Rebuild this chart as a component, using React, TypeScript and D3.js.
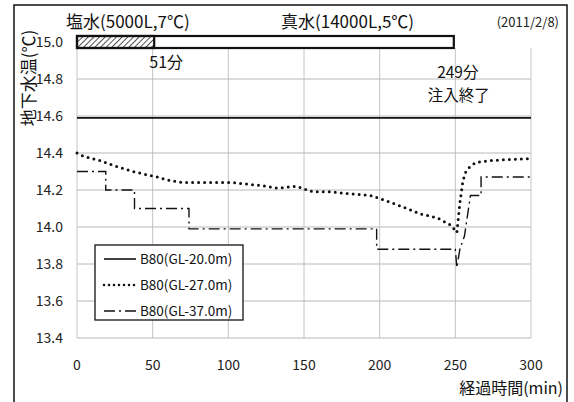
import React from 'react';
import * as d3 from 'd3';

// time (min) / temperature (°C)
const gl20Time = [0, 300];
const gl20Temp = [14.59, 14.59];

const gl27Time = [0, 5, 15, 25, 37, 53, 62, 70, 81, 95, 103, 115, 125, 132, 145, 156, 167, 180, 194, 205, 218, 227, 238, 247, 250, 251, 253, 255, 257, 260, 264, 274, 300];
const gl27Temp = [14.4, 14.38, 14.36, 14.33, 14.3, 14.27, 14.25, 14.24, 14.24, 14.24, 14.24, 14.23, 14.22, 14.21, 14.22, 14.19, 14.19, 14.18, 14.17, 14.14, 14.1, 14.07, 14.05, 14.01, 13.98, 13.97, 14.13, 14.25, 14.3, 14.33, 14.35, 14.36, 14.37];

const gl37Time = [0, 19, 19, 38, 38, 74, 74, 198, 198, 250, 251, 253, 256, 260, 267, 267, 300];
const gl37Temp = [14.3, 14.3, 14.2, 14.2, 14.1, 14.1, 13.99, 13.99, 13.88, 13.88, 13.78, 13.88, 13.95, 14.17, 14.17, 14.27, 14.27];

const xTicks = [0, 50, 100, 150, 200, 250, 300];
const yTicks = [13.4, 13.6, 13.8, 14.0, 14.2, 14.4, 14.6, 14.8, 15.0];

const legendLabels = ['B80(GL-20.0m)', 'B80(GL-27.0m)', 'B80(GL-37.0m)'];
const injectSalt = 51;   // 塩水 end
const injectEnd = 249;   // 注入終了

const FONT = '"Noto Sans CJK JP", "Noto Sans", sans-serif';

export default function App() {
  const W = 574, H = 402;
  const x = d3.scaleLinear().domain([0, 300]).range([77, 531]);
  const y = d3.scaleLinear().domain([13.4, 15.0]).range([338, 42]);

  const line = d3.line<[number, number]>().x(d => x(d[0])).y(d => y(d[1]));
  const pts = (t: number[], v: number[]) => t.map((tt, i) => [tt, v[i]] as [number, number]);

  const styles = [
    { dash: undefined as string | undefined, width: 1.6, cap: 'butt' },
    { dash: '0 6', width: 3, cap: 'round' },
    { dash: '11 4 2 4', width: 1.4, cap: 'butt' },
  ];
  const series = [pts(gl20Time, gl20Temp), pts(gl27Time, gl27Temp), pts(gl37Time, gl37Temp)];

  const barTop = 36, barH = 12;

  return (
    <svg width={W} height={H} style={{ position: 'absolute', left: 0, top: 0, background: '#fff' }} fontFamily={FONT}>
      <defs>
        <pattern id="hatch" width="4" height="4" patternUnits="userSpaceOnUse" patternTransform="rotate(45)">
          <line x1="0" y1="0" x2="0" y2="4" stroke="#222" strokeWidth="1.6" />
        </pattern>
      </defs>
      {/* outer frame */}
      <rect x={14} y={5} width={553} height={410} fill="none" stroke="#111" strokeWidth={1.5} />

      {/* grid */}
      {xTicks.map(t => (
        <line key={'gx' + t} x1={x(t)} x2={x(t)} y1={barTop + barH} y2={y(13.4)} stroke="#c4c4c4" strokeWidth={1} />
      ))}
      {yTicks.filter(t => t < 15).map(t => (
        <line key={'gy' + t} x1={x(0)} x2={x(300)} y1={y(t)} y2={y(t)} stroke="#b8b8b8" strokeWidth={1} />
      ))}

      {/* tick labels */}
      {yTicks.map(t => (
        <text key={'ty' + t} x={63} y={y(t) + 5} textAnchor="end" fontSize={14} fill="#222">{t.toFixed(1)}</text>
      ))}
      {xTicks.map(t => (
        <text key={'tx' + t} x={x(t)} y={370} textAnchor="middle" fontSize={14} fill="#222">{t}</text>
      ))}

      {/* injection bar */}
      <rect x={x(0)} y={barTop} width={x(injectEnd) - x(0)} height={barH} fill="#fff" stroke="#111" strokeWidth={2.2} />
      <rect x={x(0)} y={barTop} width={x(injectSalt) - x(0)} height={barH} fill="url(#hatch)" stroke="#111" strokeWidth={2.2} />

      {/* series */}
      {series.map((s, i) => (
        <path key={'s' + i} d={line(s) || ''} fill="none" stroke="#111" strokeWidth={styles[i].width}
          strokeDasharray={styles[i].dash} strokeLinecap={styles[i].cap as any} />
      ))}

      {/* annotations */}
      <text x={66} y={28} fontSize={17} fill="#111">塩水(5000L,7℃)</text>
      <text x={281} y={28} fontSize={17} fill="#111">真水(14000L,5℃)</text>
      <text x={559} y={27} fontSize={13} textAnchor="end" fill="#222">(2011/2/8)</text>
      <text x={x(injectSalt) + 12} y={68} fontSize={16} textAnchor="middle" fill="#111">51分</text>
      <text x={x(injectEnd) + 4} y={78} fontSize={15.5} textAnchor="middle" fill="#111">249分</text>
      <text x={x(injectEnd) + 5} y={101} fontSize={15.5} textAnchor="middle" fill="#111">注入終了</text>

      {/* axis titles */}
      <text transform="translate(35,78) rotate(-90)" fontSize={17} textAnchor="middle" fill="#111">地下水温(℃)</text>
      <text x={563} y={394} fontSize={16} textAnchor="end" fill="#111">経過時間(min)</text>

      {/* legend */}
      <rect x={95} y={245} width={148} height={75} fill="#fff" stroke="#111" strokeWidth={1.3} />
      {legendLabels.map((lab, i) => {
        const ly = 259 + i * 26;
        return (
          <g key={'lg' + i}>
            <line x1={104} x2={136} y1={ly} y2={ly} stroke="#111" strokeWidth={i === 1 ? 2.6 : styles[i].width}
              strokeDasharray={i === 1 ? '0 5' : styles[i].dash} strokeLinecap={styles[i].cap as any} />
            <text x={140} y={ly + 5} fontSize={13.5} fill="#111">{lab}</text>
          </g>
        );
      })}
    </svg>
  );
}
